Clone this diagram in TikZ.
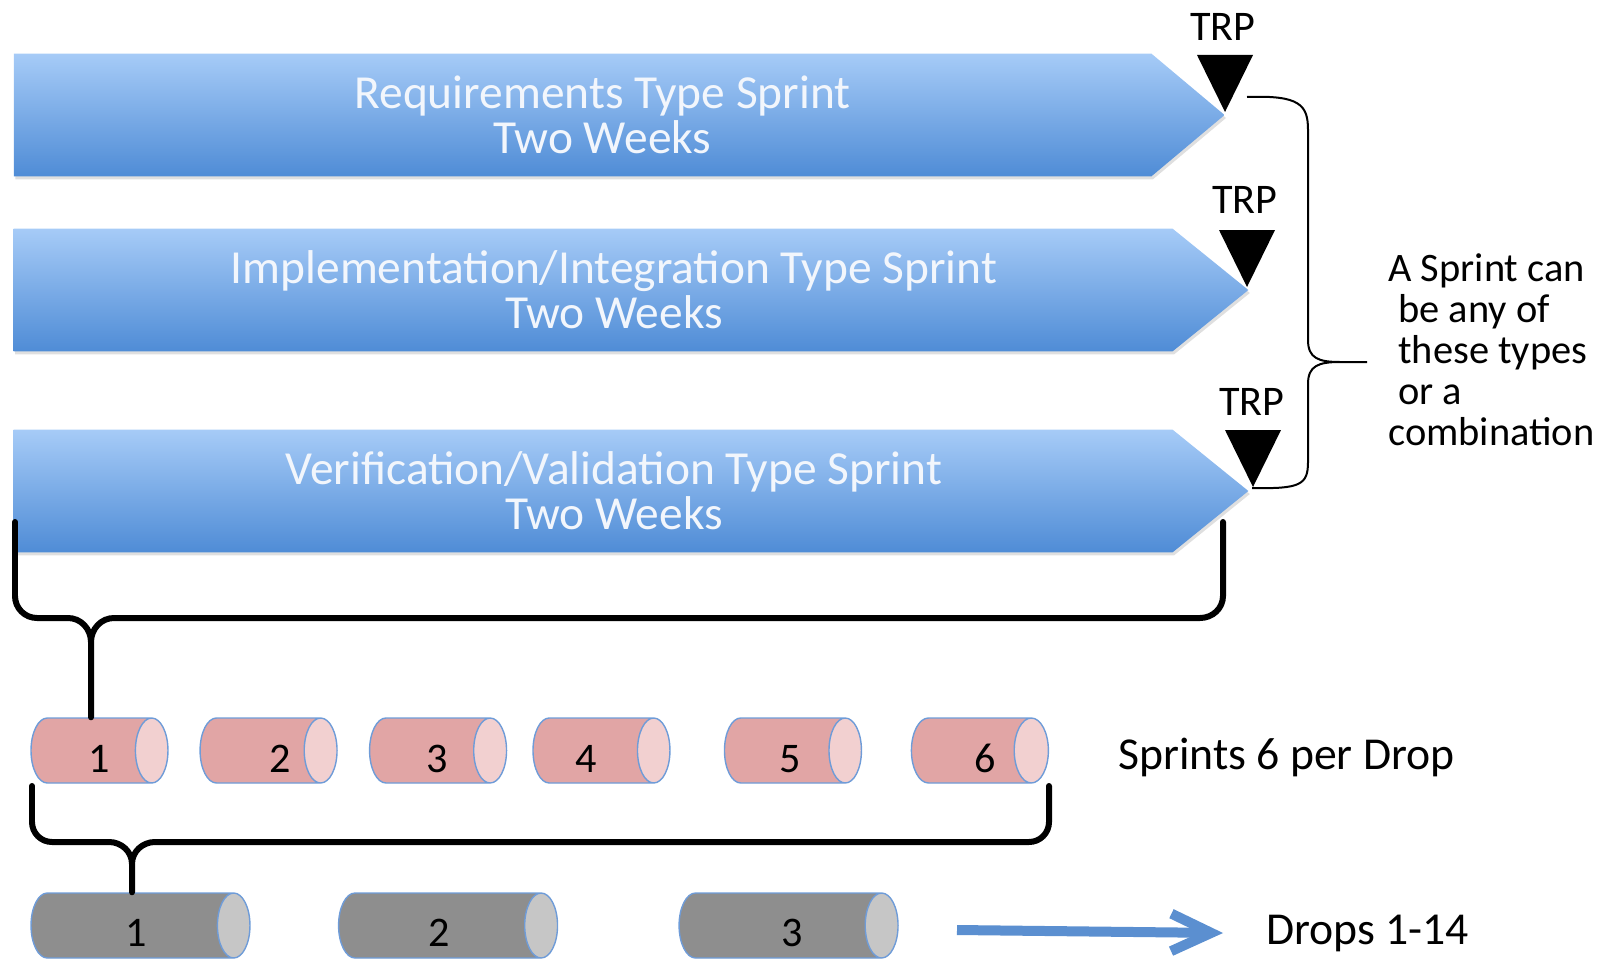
\documentclass[tikz,border=0pt]{standalone}
\usepackage{fontspec}
\setmainfont{Carlito}
\usetikzlibrary{shapes.symbols,shapes.geometric,arrows.meta,shadows}

\definecolor{bartop}{HTML}{A6CBF7}
\definecolor{barbot}{HTML}{4F8CD6}
\definecolor{bartext}{HTML}{F2F6FC}
\definecolor{sprintbody}{HTML}{E1A5A5}
\definecolor{sprintend}{HTML}{F2D0D0}
\definecolor{dropbody}{HTML}{8E8E8E}
\definecolor{dropend}{HTML}{C6C6C6}
\definecolor{rim}{HTML}{6F9CD8}
\definecolor{flow}{HTML}{5B8FD0}

\begin{document}
\begin{tikzpicture}[x = 0.02cm, y = -0.02cm,
    banner/.style = {signal, signal to = east, draw = none, top color = bartop, bottom color = barbot,
                     drop shadow = {shadow xshift = 0.03cm, shadow yshift = -0.06cm, opacity = 0.25},
                     minimum height = 2.46cm},
    bartitle/.style = {text = bartext, align = center, font = \fontsize{27}{25.5}\selectfont},
    trp/.style = {inner sep = 0, font = \fontsize{24}{24}\selectfont},
    drum/.style = {cylinder, draw = rim, line width = 0.8pt, cylinder uses custom fill, aspect = 1.2,
                   minimum width = 1.3cm, inner sep = 0, font = \fontsize{24}{24}\selectfont},
    sprint/.style = {drum, cylinder body fill = sprintbody, cylinder end fill = sprintend, minimum height = 2.74cm},
    drop/.style = {drum, cylinder body fill = dropbody, cylinder end fill = dropend, minimum height = 4.38cm},
    bigbrace/.style = {line width = 0.12cm, line join = round, line cap = round},
    note/.style = {inner sep = 0, anchor = west, font = \fontsize{26}{26}\selectfont}]
  \useasboundingbox (0,0) rectangle (1612,963);

  \node [banner, signal pointer angle = 80, minimum width = 24.22cm] (req) at (582.5,115) {};
  \node [banner, signal pointer angle = 78, minimum width = 24.7cm] (imp) at (593,290) {};
  \node [banner, signal pointer angle = 78, minimum width = 24.7cm] (ver) at (593,491) {};
  \node [bartitle] (reqtext) at ([xshift = 0.4cm]req.center) {Requirements Type Sprint\\Two Weeks};
  \node [bartitle] (imptext) at ([xshift = 0.42cm]imp.center) {Implementation/Integration Type Sprint\\Two Weeks};
  \node [bartitle] (vertext) at ([xshift = 0.42cm]ver.center) {Verification/Validation Type Sprint\\Two Weeks};

  \foreach \t/\x/\y in {1/1225/112, 2/1247/287, 3/1253/487}
    \fill (\x,\y) coordinate (tri\t) -- ++(-28,-57) -- ++(56,0) -- cycle;
  \node [trp] (trp1) at (1223,27) {TRP};
  \node [trp] (trp2) at (1245,200) {TRP};
  \node [trp] (trp3) at (1252,402) {TRP};

  \draw [line width = 0.04cm] (1247,97) .. controls (1300,95) and (1308,105) .. (1308,130) -- (1308,340)
        .. controls (1308,358) and (1318,362) .. (1340,362) -- (1367,362)
        (1340,362) .. controls (1318,362) and (1308,366) .. (1308,384) -- (1308,462)
        .. controls (1308,485) and (1300,489) .. (1252,488);
  \node [inner sep = 0, anchor = west, align = left, font = \fontsize{23}{23.3}\selectfont] (types) at (1388,350)
        {A Sprint can\\\hspace*{0.2cm}be any of\\\hspace*{0.2cm}these types\\\hspace*{0.2cm}or a\\combination};

  \foreach \n/\x/\dx in {1/91/0.32, 2/260/0.8, 3/429.5/0.32, 4/593/-0.28, 5/784.5/0.24, 6/971/0.56}
    \node [sprint] (s\n) at (\x,750.5) {\hspace*{\dx cm}\raisebox{-0.16cm}[\height][0pt]{\n}};
  \foreach \n/\x/\dx in {1/132/0.16, 2/439.5/0, 3/780/0.48}
    \node [drop] (d\n) at (\x,925.5) {\hspace*{\dx cm}\raisebox{-0.14cm}[\height][0pt]{\n}};

  \draw [bigbrace] (15,522) -- (15,596) to[out=-90,in=180] (37,618) -- (68,618) to[out=0,in=90] (91,642)
        -- (s1.north)
        (91,642) to[out=90,in=180] (114,618) -- (1200,618) to[out=0,in=-90] (1223,596) -- (1223,522);
  \draw [bigbrace] (32,786) -- (32,822) to[out=-90,in=180] (52,842) -- (109,842) to[out=0,in=90] (132,864)
        -- (d1.north)
        (132,864) to[out=90,in=180] (155,842) -- (1029,842) to[out=0,in=-90] (1049,822) -- (1049,786);

  \node [note] (perdrop) at (1118,757) {Sprints 6 per Drop};
  \node [note] (drops) at (1266,933) {Drops 1-14};
  \draw [flow, line width = 0.2cm, -{Straight Barb[length = 0.8cm, width = 0.75cm]}]
        (957,930) -- ([xshift = -0.86cm]drops.west);
\end{tikzpicture}
\end{document}
